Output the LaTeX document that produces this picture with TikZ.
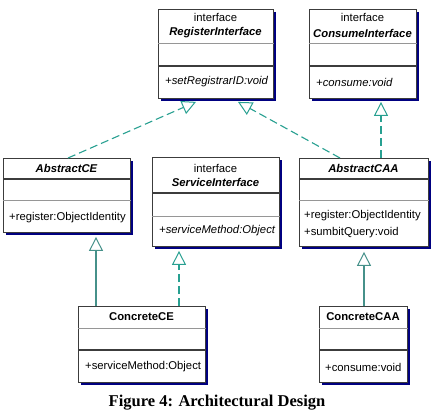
\documentclass[tikz,border=0pt]{standalone}
\usepackage{fontspec}
\setmainfont{Liberation Sans}
\newfontfamily\capfont{Liberation Serif}
\usetikzlibrary{arrows.meta,shadows}
\definecolor{shadenavy}{RGB}{0,0,128}
\definecolor{conn}{RGB}{40,160,145}
\definecolor{connsolid}{RGB}{70,145,138}
\definecolor{border}{RGB}{60,60,60}
\definecolor{sepgray}{RGB}{150,150,150}
\begin{document}
\begin{tikzpicture}[x=1pt,y=-1pt,
  umlbox/.style={draw=border, line width=0.9pt, fill=white, rectangle, inner sep=0pt, anchor=north west,
     drop shadow={shadow xshift=3pt, shadow yshift=-3pt, fill=shadenavy, opacity=1}},
  txt/.style={font=\fontsize{11.3}{13}\selectfont, inner sep=0pt},
  ital/.style={font=\fontsize{11.3}{13}\selectfont\itshape, inner sep=0pt},
  bname/.style={font=\fontsize{11.3}{13}\selectfont\bfseries, inner sep=0pt},
  biname/.style={font=\fontsize{11.3}{13}\selectfont\bfseries\itshape, inner sep=0pt},
  septhin/.style={draw=sepgray, line width=0.8pt},
  septhick/.style={draw=border, line width=1.2pt},
  realize/.style={draw=conn, line width=1.1pt, dash pattern=on 8pt off 4pt,
     -{Triangle[open, length=14pt, width=14pt, line width=1pt]}},
  inherit/.style={draw=connsolid, line width=1.1pt,
     -{Triangle[open, length=14pt, width=14pt, line width=1pt]}}
]
\useasboundingbox (0,0) rectangle (432,412);

% RegisterInterface
\node[umlbox, minimum width=115pt, minimum height=89pt] (ri) at (158,9) {};
\node[txt] (ri1) at (215.5,17) {interface};
\node[biname] (ri2) at (215.5,33) {RegisterInterface};
\draw[septhin] (ri.west |- 0,43) -- (ri.east |- 0,43);
\draw[septhick] (ri.west |- 0,66) -- (ri.east |- 0,66);
\node[ital, anchor=west] (ri3) at (165,82) {+setRegistrarID:void};

% ConsumeInterface
\node[umlbox, minimum width=107pt, minimum height=89pt] (ci) at (309,9) {};
\node[txt] (ci1) at (362.5,17) {interface};
\node[biname] (ci2) at (362.5,33) {ConsumeInterface};
\draw[septhin] (ci.west |- 0,43) -- (ci.east |- 0,43);
\draw[septhick] (ci.west |- 0,66) -- (ci.east |- 0,66);
\node[ital, anchor=west] (ci3) at (316,82) {+consume:void};

% AbstractCE
\node[umlbox, minimum width=127pt, minimum height=74pt] (ace) at (3,158) {};
\node[biname] (ace1) at (66.5,168) {AbstractCE};
\draw[septhick] (ace.west |- 0,179) -- (ace.east |- 0,179);
\draw[septhin] (ace.west |- 0,200) -- (ace.east |- 0,200);
\node[txt, anchor=west] (ace2) at (9,218) {+register:ObjectIdentity};

% ServiceInterface
\node[umlbox, minimum width=127pt, minimum height=89pt] (si) at (152,157) {};
\node[txt] (si1) at (215.5,168) {interface};
\node[biname] (si2) at (215.5,182) {ServiceInterface};
\draw[septhick] (si.west |- 0,193) -- (si.east |- 0,193);
\draw[septhin] (si.west |- 0,216) -- (si.east |- 0,216);
\node[ital, anchor=west] (si3) at (159,231) {+serviceMethod:Object};

% AbstractCAA
\node[umlbox, minimum width=129pt, minimum height=88pt] (acaa) at (299,158) {};
\node[biname] (acaa1) at (363.5,168) {AbstractCAA};
\draw[septhick] (acaa.west |- 0,179) -- (acaa.east |- 0,179);
\draw[septhin] (acaa.west |- 0,200) -- (acaa.east |- 0,200);
\node[txt, anchor=west] (acaa2) at (304,216) {+register:ObjectIdentity};
\node[txt, anchor=west] (acaa3) at (304,233) {+sumbitQuery:void};

% ConcreteCE
\node[umlbox, minimum width=127pt, minimum height=76pt] (cce) at (78,306) {};
\node[bname] (cce1) at (141.5,317) {ConcreteCE};
\draw[septhin] (cce.west |- 0,328) -- (cce.east |- 0,328);
\draw[septhick] (cce.west |- 0,350) -- (cce.east |- 0,350);
\node[txt, anchor=west] (cce2) at (85,367) {+serviceMethod:Object};

% ConcreteCAA
\node[umlbox, minimum width=88pt, minimum height=76pt] (ccaa) at (319,306) {};
\node[bname] (ccaa1) at (363,317) {ConcreteCAA};
\draw[septhin] (ccaa.west |- 0,328) -- (ccaa.east |- 0,328);
\draw[septhick] (ccaa.west |- 0,350) -- (ccaa.east |- 0,350);
\node[txt, anchor=west] (ccaa2) at (325,367) {+consume:void};

% connectors
\draw[realize] ([xshift=65pt]ace.north west) -- ([xshift=38pt,yshift=-3pt]ri.south west);
\draw[realize] ([xshift=41pt]acaa.north west) -- ([xshift=80pt,yshift=-3pt]ri.south west);
\draw[realize] ([xshift=82pt]acaa.north west) -- ([xshift=72pt,yshift=-3pt]ci.south west);
\draw[inherit] ([xshift=18pt]cce.north west) -- ([xshift=93pt,yshift=-4pt]ace.south west);
\draw[realize] ([xshift=101pt]cce.north west) -- ([xshift=27pt,yshift=-4pt]si.south west);
\draw[inherit] ([xshift=45pt]ccaa.north west) -- ([xshift=65pt,yshift=-5pt]acaa.south west);

% caption
\node[font=\capfont\bfseries\fontsize{16.5}{18}\selectfont, anchor=base, inner sep=0pt] (cap) at (217,406) {Figure 4: Architectural Design};
\end{tikzpicture}
\end{document}
